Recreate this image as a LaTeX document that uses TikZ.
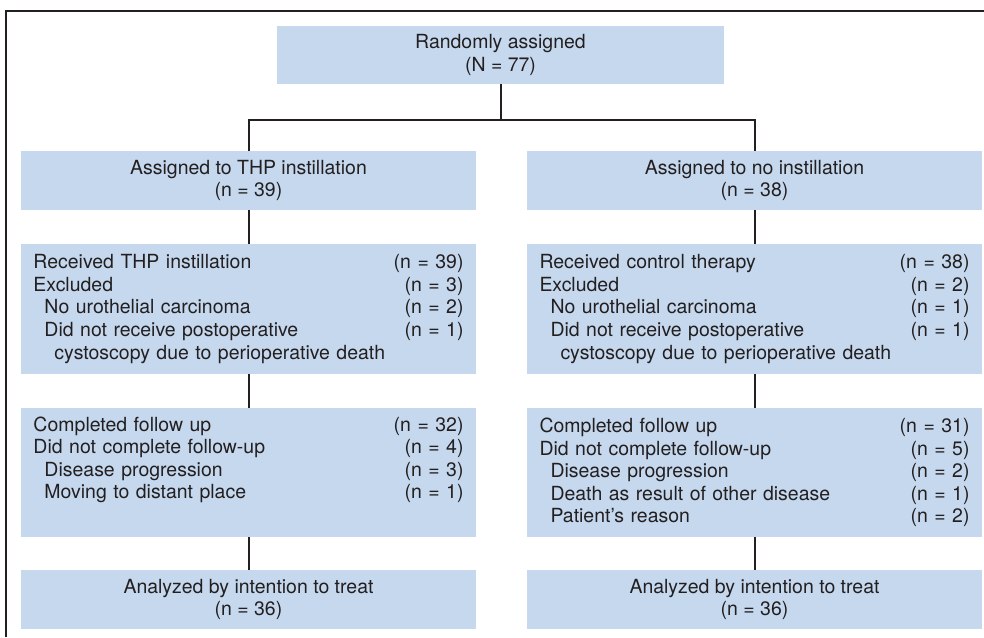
\documentclass[tikz,border=0pt]{standalone}
\usepackage{fontspec}
\setmainfont{TeX Gyre Heros}
\usepackage{xcolor}
\usetikzlibrary{positioning}
\definecolor{boxblue}{RGB}{197,216,238}
\definecolor{ink}{RGB}{35,31,32}

\begin{document}
\begin{tikzpicture}[
    x=0.75pt, y=-0.75pt,
    box/.style={fill=boxblue, text=ink, minimum width=341.25pt, minimum height=44.25pt, align=center, inner sep=0pt, outer sep=0pt},
    listbox/.style={box, minimum height=97.5pt, text width=322.5pt, inner xsep=9.375pt, align=left},
    link/.style={draw=ink, line width=1.5pt},
    every node/.append style={font=\fontsize{14.6}{16.9}\selectfont}
]
    \useasboundingbox (0,0) rectangle (984,637);
    % Frame
    \draw[link, line width=1.2pt] (6,637) -- (6,11) -- (984,11);

    % Boxes
    \node[box, minimum width=335.25pt, minimum height=43.5pt] (rand) at (500.5,55) {Randomly assigned\\(N = 77)};
    \coordinate[below=27pt of rand] (split);
    \node[box, below=50.25pt of rand, xshift=-189pt] (thp) {Assigned to THP instillation\\(n = 39)};
    \node[box, right=38.25pt of thp] (none) {Assigned to no instillation\\(n = 38)};

    \node[listbox, below=25.5pt of thp] (thprecv) {Received THP instillation\hfill(n = 39)\\
        Excluded\hfill(n = 3)\\
        \hspace*{8.25pt}No urothelial carcinoma\hfill(n = 2)\\
        \hspace*{8.25pt}Did not receive postoperative\hfill(n = 1)\\
        \hspace*{15.75pt}cystoscopy due to perioperative death};
    \node[listbox, below=25.5pt of none] (ctrlrecv) {Received control therapy\hfill(n = 38)\\
        Excluded\hfill(n = 2)\\
        \hspace*{8.25pt}No urothelial carcinoma\hfill(n = 1)\\
        \hspace*{8.25pt}Did not receive postoperative\hfill(n = 1)\\
        \hspace*{15.75pt}cystoscopy due to perioperative death};

    \node[listbox, minimum height=96.75pt, below=25.5pt of thprecv] (thpfu) {Completed follow up\hfill(n = 32)\\
        Did not complete follow-up\hfill(n = 4)\\
        \hspace*{8.25pt}Disease progression\hfill(n = 3)\\
        \hspace*{8.25pt}Moving to distant place\hfill(n = 1)\\
        \strut};
    \node[listbox, minimum height=96.75pt, below=25.5pt of ctrlrecv] (ctrlfu) {Completed follow up\hfill(n = 31)\\
        Did not complete follow-up\hfill(n = 5)\\
        \hspace*{8.25pt}Disease progression\hfill(n = 2)\\
        \hspace*{8.25pt}Death as result of other disease\hfill(n = 1)\\
        \hspace*{8.25pt}Patient's reason\hfill(n = 2)};

    \node[box, below=24.75pt of thpfu] (thpitt) {Analyzed by intention to treat\\(n = 36)};
    \node[box, below=24.75pt of ctrlfu] (ctrlitt) {Analyzed by intention to treat\\(n = 36)};

    % Connectors
    \draw[link] (rand) -- (split);
    \draw[link] (thp) |- (split) -| (none);
    \draw[link] (thp) -- (thprecv);
    \draw[link] (none) -- (ctrlrecv);
    \draw[link] (thprecv) -- (thpfu);
    \draw[link] (ctrlrecv) -- (ctrlfu);
    \draw[link] (thpfu) -- (thpitt);
    \draw[link] (ctrlfu) -- (ctrlitt);
\end{tikzpicture}
\end{document}
